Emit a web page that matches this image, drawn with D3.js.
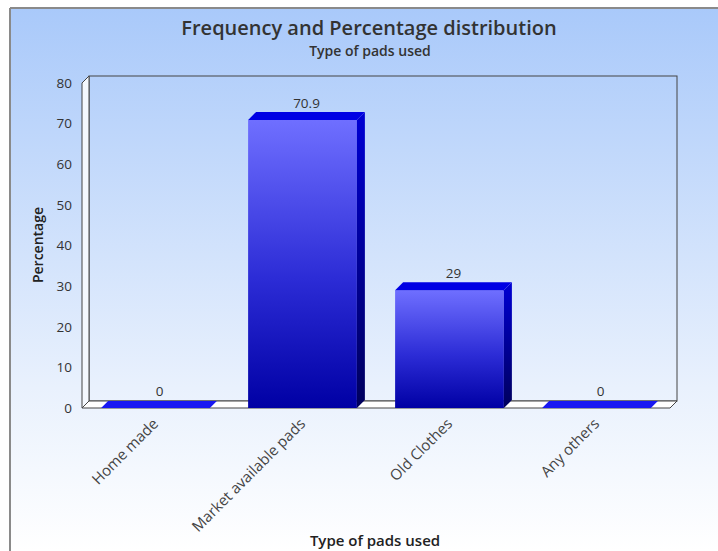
<!DOCTYPE html>
<html>
<head>
<meta charset="utf-8">
<script src="https://cdn.jsdelivr.net/npm/d3@7/dist/d3.min.js"></script>
<style>
  html, body { margin: 0; padding: 0; background: #fff; }
  svg { display: block; }
  text { font-family: "Open Sans", "Noto Sans", sans-serif; }
</style>
</head>
<body>
<svg id="chart" width="718" height="551"></svg>
<script>
// Chart data
const categories = ["Home made", "Market available pads", "Old Clothes", "Any others"];
const percentages = [0, 70.9, 29, 0];
const yTicks = [0, 10, 20, 30, 40, 50, 60, 70, 80];
const chartTitle = "Frequency and Percentage distribution";
const chartSubtitle = "Type of pads used";
const xTitle = "Type of pads used";
const yTitle = "Percentage";

(function () {
const W = 718, H = 551;
const svg = d3.select("#chart");
const defs = svg.append("defs");

// Panel background gradient
const bg = defs.append("linearGradient").attr("id", "bg").attr("x1", 0).attr("y1", 0).attr("x2", 0).attr("y2", 1);
bg.append("stop").attr("offset", "0%").attr("stop-color", "#a9c9fa");
bg.append("stop").attr("offset", "70%").attr("stop-color", "#e9f1fd");
bg.append("stop").attr("offset", "100%").attr("stop-color", "#ffffff");

// Bar face gradients
const front = defs.append("linearGradient").attr("id", "front").attr("x1", 0).attr("y1", 0).attr("x2", 0).attr("y2", 1);
front.append("stop").attr("offset", "0%").attr("stop-color", "#6f6fff");
front.append("stop").attr("offset", "55%").attr("stop-color", "#2c2cd6");
front.append("stop").attr("offset", "100%").attr("stop-color", "#0000a4");
const side = defs.append("linearGradient").attr("id", "side").attr("x1", 0).attr("y1", 0).attr("x2", 0).attr("y2", 1);
side.append("stop").attr("offset", "0%").attr("stop-color", "#0000d4");
side.append("stop").attr("offset", "100%").attr("stop-color", "#00005c");

// Panel
svg.append("rect").attr("x", 10).attr("y", 8).attr("width", W - 10).attr("height", H - 8).attr("fill", "url(#bg)");
svg.append("line").attr("x1", 10).attr("y1", 8).attr("x2", W).attr("y2", 8).attr("stroke", "#8a8a8a").attr("stroke-width", 2);
svg.append("line").attr("x1", 10).attr("y1", 8).attr("x2", 10).attr("y2", H).attr("stroke", "#8a8a8a").attr("stroke-width", 2);

// Titles
svg.append("text").attr("x", 369).attr("y", 35).attr("text-anchor", "middle")
  .attr("font-size", 20).attr("font-weight", 600).attr("fill", "#333").text(chartTitle);
svg.append("text").attr("x", 370).attr("y", 56).attr("text-anchor", "middle")
  .attr("font-size", 14).attr("font-weight", 600).attr("fill", "#333").text(chartSubtitle);

// Plot geometry
const pLeft = 82, pRight = 670, pBottom = 408, pTop = 83;
const wallD = 7, barD = 8;

const x = d3.scaleBand().domain(categories).range([pLeft, pRight]).paddingInner(0.26).paddingOuter(0.13);
const y = d3.scaleLinear().domain([0, 80]).range([pBottom, pTop]);

const g = svg.append("g");
const lineCol = "#444";

// Back wall
g.append("rect").attr("x", pLeft + wallD).attr("y", pTop - wallD)
  .attr("width", pRight - pLeft).attr("height", pBottom - pTop)
  .attr("fill", "none").attr("stroke", lineCol).attr("stroke-width", 1);
// Left side wall
g.append("path")
  .attr("d", `M${pLeft},${pTop} L${pLeft + wallD},${pTop - wallD} L${pLeft + wallD},${pBottom - wallD} L${pLeft},${pBottom} Z`)
  .attr("fill", "#f4f8fe").attr("stroke", lineCol).attr("stroke-width", 1);
// Floor
g.append("path")
  .attr("d", `M${pLeft},${pBottom} L${pLeft + wallD},${pBottom - wallD} L${pRight + wallD},${pBottom - wallD} L${pRight},${pBottom} Z`)
  .attr("fill", "#ffffff").attr("stroke", lineCol).attr("stroke-width", 1);

// Y axis labels
const yAxis = d3.axisLeft(y).tickValues(yTicks).tickSize(0).tickPadding(10);
const ya = svg.append("g").attr("transform", `translate(${pLeft},0)`).call(yAxis);
ya.select(".domain").remove();
ya.selectAll("text").attr("font-size", 13.5).attr("fill", "#333")
  .style("font-family", "'Open Sans', 'Noto Sans', sans-serif");

// Bars
const bars = g.selectAll("g.bar").data(categories).join("g").attr("class", "bar");
bars.each(function (c, i) {
  const v = percentages[i];
  const bx = x(c), bw = x.bandwidth();
  const yt = y(v);
  const sel = d3.select(this);
  if (v > 0) {
    sel.append("rect").attr("x", bx).attr("y", yt).attr("width", bw).attr("height", pBottom - yt)
      .attr("fill", "url(#front)");
    sel.append("path")
      .attr("d", `M${bx + bw},${yt} L${bx + bw + barD},${yt - barD} L${bx + bw + barD},${pBottom - barD} L${bx + bw},${pBottom} Z`)
      .attr("fill", "url(#side)");
    sel.append("path")
      .attr("d", `M${bx},${yt} L${bx + barD},${yt - barD} L${bx + bw + barD},${yt - barD} L${bx + bw},${yt} Z`)
      .attr("fill", "#0000e4");
  } else {
    sel.append("path")
      .attr("d", `M${bx},${pBottom} L${bx + wallD},${pBottom - wallD} L${bx + bw + wallD},${pBottom - wallD} L${bx + bw},${pBottom} Z`)
      .attr("fill", "#1818f2");
  }
  sel.append("text")
    .attr("x", bx + bw / 2 + barD / 2).attr("y", yt - barD - 4)
    .attr("text-anchor", "middle").attr("font-size", 13.5).attr("fill", "#333")
    .text(String(v));
});

// Category labels
svg.append("g").selectAll("text").data(categories).join("text")
  .attr("transform", d => `translate(${x(d) + x.bandwidth() / 2},${pBottom + 13}) rotate(-45)`)
  .attr("text-anchor", "end").attr("dy", "0.35em")
  .attr("font-size", 15).attr("fill", "#444").text(d => d);

// Axis titles
svg.append("text").attr("x", 375).attr("y", 546).attr("text-anchor", "middle")
  .attr("font-size", 15).attr("font-weight", 600).attr("fill", "#222").text(xTitle);
svg.append("text").attr("transform", "translate(43,245) rotate(-90)").attr("text-anchor", "middle")
  .attr("font-size", 14).attr("font-weight", 600).attr("fill", "#222").text(yTitle);
})();
</script>
</body>
</html>
